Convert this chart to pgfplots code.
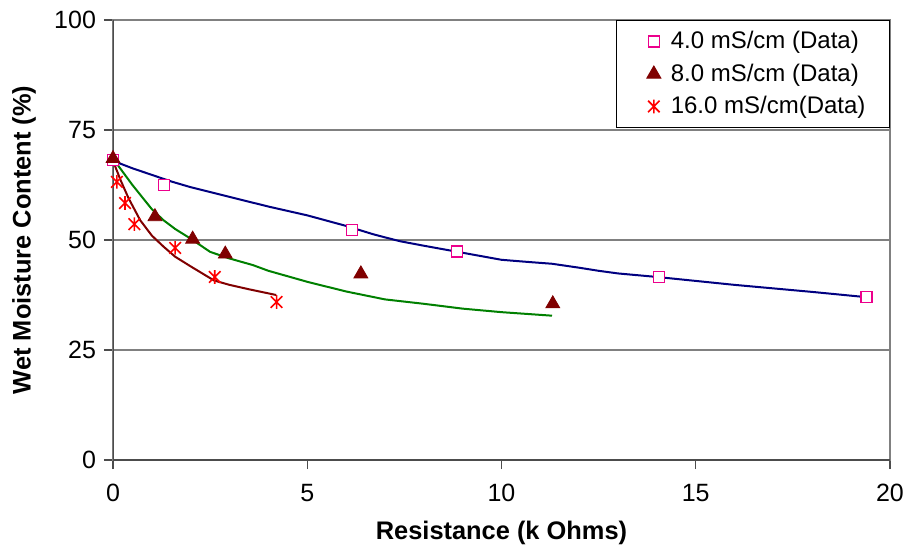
\documentclass[border=0pt]{standalone}
\usepackage{fontspec}
\setmainfont{Liberation Sans}
\usepackage{pgfplots}
\pgfplotsset{compat=1.18}
\definecolor{fitblue}{RGB}{0,0,128}
\definecolor{fitgreen}{RGB}{0,128,0}
\definecolor{darkred}{RGB}{128,0,0}
\definecolor{gridgrey}{RGB}{128,128,128}
% Excel-style star: an X with a vertical bar
\pgfdeclareplotmark{xstar}{%
  \pgfpathmoveto{\pgfqpoint{0pt}{\pgfplotmarksize}}%
  \pgfpathlineto{\pgfqpoint{0pt}{-\pgfplotmarksize}}%
  \pgfpathmoveto{\pgfqpoint{-0.85\pgfplotmarksize}{0.85\pgfplotmarksize}}%
  \pgfpathlineto{\pgfqpoint{0.85\pgfplotmarksize}{-0.85\pgfplotmarksize}}%
  \pgfpathmoveto{\pgfqpoint{-0.85\pgfplotmarksize}{-0.85\pgfplotmarksize}}%
  \pgfpathlineto{\pgfqpoint{0.85\pgfplotmarksize}{0.85\pgfplotmarksize}}%
  \pgfusepathqstroke}
\begin{document}
\begin{tikzpicture}
\begin{axis}[
  scale only axis,
  width=388.5pt, height=220pt,
  xmin=0, xmax=20, ymin=0, ymax=100,
  xtick={0,5,10,15,20}, ytick={0,25,50,75,100},
  ymajorgrids, grid style={gridgrey, line width=0.6pt},
  axis line style={gridgrey, line width=0.8pt},
  tick align=outside, tick pos=left,
  major tick length=4.5pt,
  tick style={black!70, line width=0.6pt},
  /pgf/number format/assume math mode=true,
  tick label style={font=\fontsize{12.5}{14}\selectfont},
  xticklabel style={yshift=-4pt},
  yticklabel style={xshift=-0.5pt},
  xlabel={Resistance (k Ohms)},
  ylabel={Wet Moisture Content (\%)},
  label style={font=\fontsize{12.7}{14}\selectfont\bfseries},
  xlabel style={at={(axis description cs:0.5,0)}, anchor=center, yshift=-36.5pt},
  ylabel style={at={(axis description cs:-0.1145,0.5)}, anchor=center},
  legend style={at={(rel axis cs:1,1)}, anchor=north east,
    draw=black, line width=0.5pt, fill=white,
    font=\fontsize{12}{13.5}\selectfont,
    row sep=2pt, inner xsep=10pt, inner ysep=3.5pt},
  legend cell align=left,
  legend image code/.code={%
    \path[draw=none, fill=none] (0pt,0pt) -- (15pt,0pt);
    \draw[#1] plot coordinates {(0.3cm,0cm)};},
]
% fitted curves
\addplot[fitblue, line width=1pt, forget plot] coordinates {
  (0,68) (0.5,66.3) (1,64.8) (1.5,63.3) (2,62) (3,59.8) (4,57.6) (5,55.6)
  (6,53.2) (6.7,51.3) (7,50.6) (7.4,49.7) (8,48.7) (9,47.1) (10,45.5)
  (10.7,45) (11.3,44.6) (12,43.7) (12.5,43) (13,42.4) (14,41.6) (15,40.7)
  (16,39.8) (17,39) (18,38.2) (19.4,37)
};
\addplot[fitgreen, line width=1pt, forget plot] coordinates {
  (0,68.5) (0.5,62.5) (1,57) (1.3,54.5) (1.6,52.5) (2,50.3) (2.5,47.3)
  (3,45.8) (3.6,44.3) (4,43) (5,40.5) (6,38.3) (7,36.5) (8,35.5) (9,34.4)
  (10,33.6) (11.3,32.8)
};
\addplot[darkred, line width=1pt, forget plot] coordinates {
  (0,68) (0.2,63.5) (0.4,59.5) (0.7,54.5) (1.0,51) (1.3,48.5) (1.6,46.2)
  (2.0,44) (2.6,40.8) (3.0,39.8) (3.5,38.8) (4.2,37.5)
};
% data
\addplot[only marks, mark=square*, mark size=2.75pt,
  mark options={draw=magenta, fill=white, line width=0.8pt}] coordinates {
  (0,68.2) (1.31,62.5) (6.15,52.3) (8.85,47.4) (14.05,41.6) (19.4,37.0)
};
\addlegendentry{4.0 mS/cm (Data)}
\addplot[only marks, mark=triangle*, mark size=4pt,
  mark options={draw=darkred, fill=darkred}] coordinates {
  (0,68.5) (1.08,55.3) (2.05,50.2) (2.89,46.8) (6.38,42.3) (11.32,35.5)
};
\addlegendentry{8.0 mS/cm (Data)}
\addplot[only marks, mark=xstar, mark size=3.4pt,
  mark options={draw=red, line width=0.8pt}] coordinates {
  (0.1,63.2) (0.31,58.4) (0.55,53.6) (1.6,48.2) (2.62,41.6) (4.21,35.9)
};
\addlegendentry{16.0 mS/cm(Data)}
% darker left and bottom axis lines
\draw[black!70, line width=0.8pt] (rel axis cs:0,1) -- (rel axis cs:0,0) -- (rel axis cs:1,0);
\end{axis}
\pgfresetboundingbox
\path ([shift={(-56.5pt,-43pt)}]current axis.south west) rectangle ([shift={(7.5pt,10pt)}]current axis.north east);
\end{tikzpicture}
\end{document}
